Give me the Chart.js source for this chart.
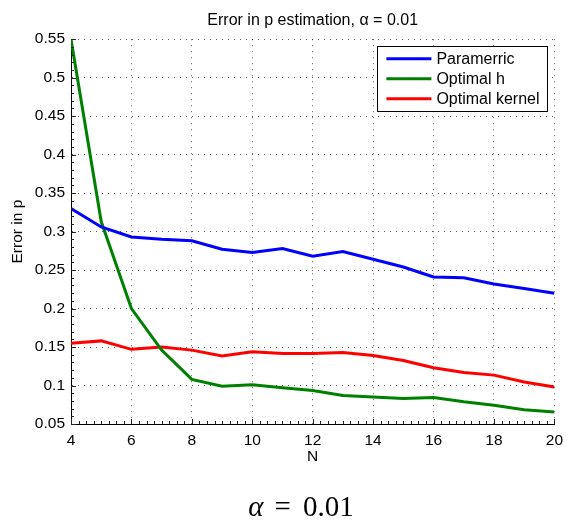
<!DOCTYPE html>
<html>
<head>
<meta charset="utf-8">
<script src="https://cdn.jsdelivr.net/npm/chart.js@4/dist/chart.umd.min.js"></script>
<style>
  html, body { margin: 0; padding: 0; background: #fff; }
  #wrap { position: relative; width: 570px; height: 521px; }
  #c { position: absolute; left: 0; top: 0; }
  #cap { position: absolute; left: 0; top: 492px; width: 602px; text-align: center;
         font-family: "Liberation Serif", "DejaVu Serif", serif; font-size: 29px; line-height: 29px; color: #000; }
  #cap i { font-style: italic; }
  #cap .eq { margin: 0 12px 0 11px; }
</style>
</head>
<body>
<div id="wrap">
  <canvas id="c" width="570" height="521"></canvas>
  <div id="cap"><i>α</i><span class="eq">=</span>0.01</div>
</div>
<script>
// ---- data ----
const N = [4, 5, 6, 7, 8, 9, 10, 11, 12, 13, 14, 15, 16, 17, 18, 19, 20];
const paramerric   = [0.330, 0.306, 0.293, 0.290, 0.288, 0.277, 0.273, 0.278, 0.268, 0.274, 0.264, 0.254, 0.241, 0.240, 0.232, 0.226, 0.220];
const optimalH     = [0.550, 0.313, 0.200, 0.146, 0.108, 0.099, 0.101, 0.097, 0.0935, 0.087, 0.085, 0.083, 0.0845, 0.079, 0.0745, 0.0685, 0.0655];
const optimalKernel= [0.155, 0.158, 0.147, 0.150, 0.146, 0.1385, 0.144, 0.1415, 0.1415, 0.143, 0.139, 0.1325, 0.123, 0.117, 0.1135, 0.1045, 0.098];
const seriesLabels = ["Paramerric", "Optimal h", "Optimal kernel"];
const xTicks = [4, 6, 8, 10, 12, 14, 16, 18, 20];
const yTicks = [0.05, 0.1, 0.15, 0.2, 0.25, 0.3, 0.35, 0.4, 0.45, 0.5, 0.55];
const titleText = "Error in p estimation, α = 0.01";
const xTitle = "N";
const yTitle = "Error in p";

const FONT = "'Liberation Sans', Arial, Helvetica, sans-serif";
const pts = ys => N.map((n, i) => ({ x: n, y: ys[i] }));

// inward major/minor ticks (MATLAB style)
const innerTicks = {
  id: 'innerTicks',
  afterDatasetsDraw(chart) {
    const { ctx, chartArea: a, scales: { x, y } } = chart;
    ctx.save();
    ctx.strokeStyle = '#222';
    ctx.lineWidth = 1;
    ctx.beginPath();
    for (let k = 0; k <= 64; k++) {
      const v = 4 + k * 0.25;
      const px = Math.round(x.getPixelForValue(v)) + 0.5;
      const len = (k % 8 === 0) ? 5 : 3;
      ctx.moveTo(px, a.bottom); ctx.lineTo(px, a.bottom - len);
    }
    for (let k = 0; k <= 50; k++) {
      const v = 0.05 + k * 0.01;
      const py = Math.round(y.getPixelForValue(v)) + 0.5;
      const len = (k % 5 === 0) ? 5 : 3;
      ctx.moveTo(a.left, py); ctx.lineTo(a.left + len, py);
    }
    ctx.stroke();
    ctx.restore();
  }
};

// legend box inside the plot, upper right
const boxLegend = {
  id: 'boxLegend',
  afterDatasetsDraw(chart) {
    const { ctx, chartArea: a } = chart;
    const right = a.right - 7, top = a.top + 7;
    const w = 170, h = 65;
    const left = right - w;
    ctx.save();
    ctx.fillStyle = '#fff';
    ctx.fillRect(left, top, w, h);
    ctx.strokeStyle = '#000';
    ctx.lineWidth = 1;
    ctx.strokeRect(Math.round(left) + 0.5, Math.round(top) + 0.5, w, h);
    ctx.font = "16px " + FONT;
    ctx.textBaseline = 'middle';
    ctx.textAlign = 'left';
    chart.data.datasets.forEach((ds, i) => {
      const cy = top + 12.5 + i * 20;
      ctx.strokeStyle = ds.borderColor;
      ctx.lineWidth = 3;
      ctx.beginPath();
      ctx.moveTo(left + 9, cy); ctx.lineTo(left + 54, cy);
      ctx.stroke();
      ctx.fillStyle = '#000';
      ctx.fillText(ds.label, left + 59, cy + 1);
    });
    ctx.restore();
  }
};

const mk = (label, data, color) => ({
  label, data: pts(data), borderColor: color, backgroundColor: color,
  borderWidth: 3, pointRadius: 0, tension: 0, fill: false
});

new Chart(document.getElementById('c'), {
  type: 'line',
  data: {
    datasets: [
      mk(seriesLabels[0], paramerric, '#0000ff'),
      mk(seriesLabels[1], optimalH, '#008000'),
      mk(seriesLabels[2], optimalKernel, '#ff0000')
    ]
  },
  options: {
    responsive: false,
    animation: false,
    devicePixelRatio: 1,
    layout: { padding: { left: 0, right: 11, top: 0, bottom: 55 } },
    plugins: {
      legend: { display: false },
      tooltip: { enabled: false },
      title: {
        display: true, text: titleText, fullSize: false, color: '#000',
        font: { family: FONT, size: 16, weight: 'normal' },
        padding: { top: 11, bottom: 9 }
      }
    },
    scales: {
      x: {
        type: 'linear', min: 4, max: 20,
        afterBuildTicks: s => { s.ticks = xTicks.map(v => ({ value: v })); },
        afterFit: s => { s.height = 42; },
        ticks: { color: '#000', font: { family: FONT, size: 15.5 }, padding: 7, maxRotation: 0,
                 callback: v => String(v) },
        grid: { color: 'rgba(0,0,0,0.65)', lineWidth: 1, drawTicks: false },
        border: { display: true, color: '#000', width: 1, dash: [1, 5] },
        title: { display: true, text: xTitle, color: '#000', font: { family: FONT, size: 15.5 }, padding: 0 }
      },
      y: {
        type: 'linear', min: 0.05, max: 0.55,
        afterBuildTicks: s => { s.ticks = yTicks.map(v => ({ value: v })); },
        afterFit: s => { s.width = 71; },
        ticks: { color: '#000', font: { family: FONT, size: 15.5 }, padding: 6,
                 callback: v => String(+v.toFixed(2)) },
        grid: { color: 'rgba(0,0,0,0.65)', lineWidth: 1, drawTicks: false },
        border: { display: true, color: '#000', width: 1, dash: [1, 5] },
        title: { display: true, text: yTitle, color: '#000', font: { family: FONT, size: 15.5 }, padding: { top: 8, bottom: 0 } }
      }
    }
  },
  plugins: [innerTicks, boxLegend]
});
</script>
</body>
</html>
